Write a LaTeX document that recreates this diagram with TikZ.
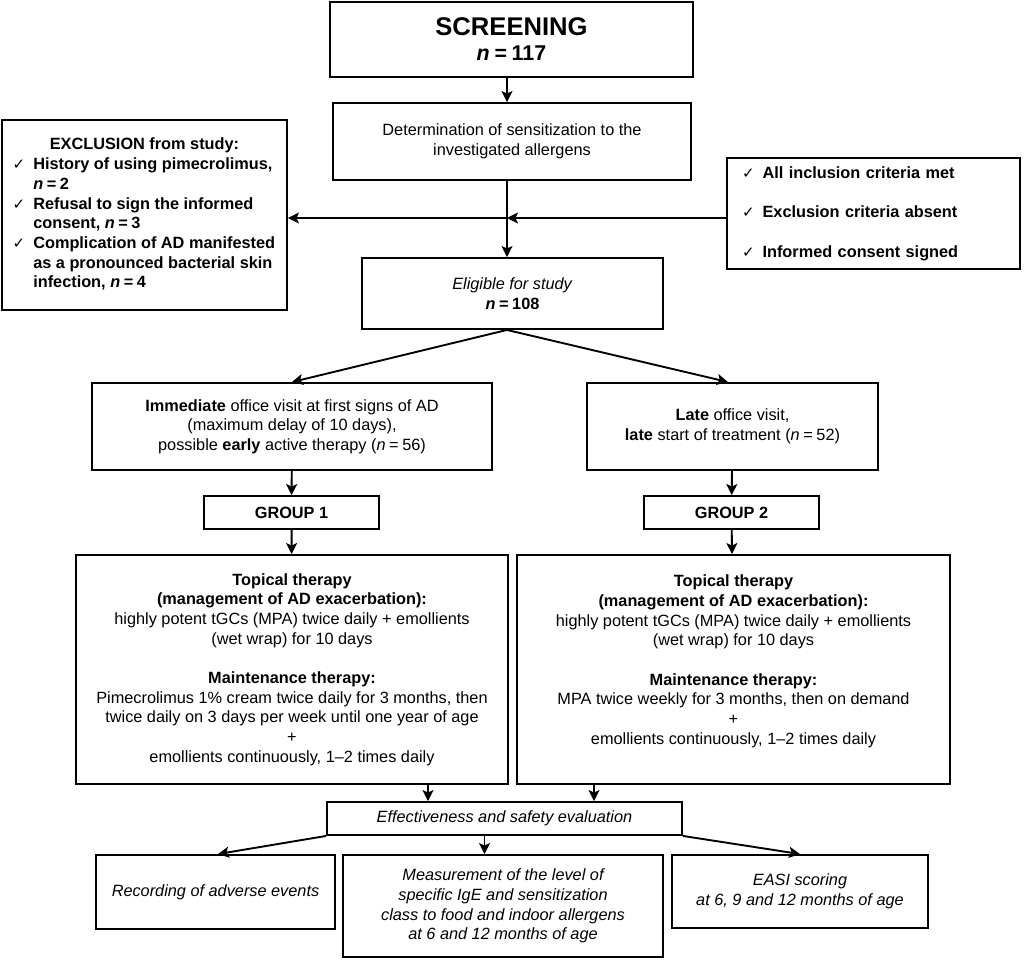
\documentclass[tikz,border=0pt]{standalone}
\usepackage{fontspec}
\setmainfont{Liberation Sans}
\newfontfamily\checkfont{DejaVu Sans}
\usepackage{array}
\usetikzlibrary{positioning,arrows.meta}
\newcommand{\checkmk}{{\checkfont\fontsize{15}{15}\selectfont ✓}}
\newcommand{\eqsp}{\hspace{0.22em}=\hspace{0.22em}}

\begin{document}
\begin{tikzpicture}[x=1pt,y=-1pt]
	\tikzset{box/.style={draw, line width=1.9pt, align=center, inner sep=2pt, font=\fontsize{16.3}{19.7}\selectfont},
		boldbox/.style={box, font=\bfseries\fontsize{16.3}{19.7}\selectfont},
		itbox/.style={box, font=\itshape\fontsize{16.3}{19.7}\selectfont},
		link/.style={->, line width=1.9pt},
		>={Stealth[length=11pt,width=11pt,inset=2.5pt]}}
	\useasboundingbox (0,0) rectangle (1026,960);
	\node[box, minimum width=363pt, minimum height=75pt, font=\bfseries\fontsize{25.6}{25}\selectfont] (scr) at (511.5,39.5) {SCREENING\\{\fontsize{21.4}{25}\selectfont\textit{n}\eqsp117}};
	\node[box, minimum width=358pt, minimum height=77pt] (det) at (512,141.5) {Determination of sensitization to the\\investigated allergens};
	\node[boldbox, minimum width=285pt, minimum height=190pt] (excl) at (144.5,215) {%
		\begin{tabular}{@{}l@{\hspace{8pt}}>{\raggedright\arraybackslash}p{243pt}@{}}
			\multicolumn{2}{c}{EXCLUSION from study:}\\
			\checkmk & History of using pimecrolimus,\newline \textit{n}\eqsp2\\
			\checkmk & Refusal to sign the informed\newline consent, \textit{n}\eqsp3\\
			\checkmk & Complication of AD manifested\newline as a pronounced bacterial skin\newline infection, \textit{n}\eqsp4
		\end{tabular}};
	\node[boldbox, minimum width=293pt, minimum height=111pt, text width=263pt, inner xsep=15pt, align=left] (incl) at (873.5,213.5) {\checkmk\hspace{8pt}All inclusion criteria met\\[19.7pt]\checkmk\hspace{8pt}Exclusion criteria absent\\[19.7pt]\checkmk\hspace{8pt}Informed consent signed};
	\node[box, minimum width=301pt, minimum height=71pt] (elig) at (512.5,293.5) {\textit{Eligible for study}\\\textbf{\textit{n}\eqsp108}};
	\node[box, minimum width=400pt, minimum height=87pt] (imm) at (292,426.5) {\textbf{Immediate} office visit at first signs of AD\\(maximum delay of 10 days),\\possible \textbf{early} active therapy (\textit{n}\eqsp56)};
	\node[box, minimum width=291pt, minimum height=87pt] (late) at (732.5,426.5) {\textbf{Late} office visit,\\\textbf{late} start of treatment (\textit{n}\eqsp52)};
	\node[boldbox, minimum width=175pt, minimum height=33pt] (g1) at (291.5,512.5) {GROUP 1};
	\node[boldbox, minimum width=175pt, minimum height=33pt] (g2) at (731.5,512.5) {GROUP 2};
	\node[box, minimum width=432pt, minimum height=229pt] (top1) at (292,669.5) {\textbf{Topical therapy}\\\textbf{(management of AD exacerbation):}\\highly potent tGCs (MPA) twice daily + emollients\\(wet wrap) for 10 days\\[19.7pt]\textbf{Maintenance therapy:}\\Pimecrolimus 1\% cream twice daily for 3 months, then\\twice daily on 3 days per week until one year of age\\+\\emollients continuously, 1--2 times daily};
	\node[box, minimum width=433pt, minimum height=229pt] (top2) at (733.5,669.5) {\textbf{Topical therapy}\\\textbf{(management of AD exacerbation):}\\highly potent tGCs (MPA) twice daily + emollients\\(wet wrap) for 10 days\\[19.7pt]\textbf{Maintenance therapy:}\\MPA twice weekly for 3 months, then on demand\\+\\emollients continuously, 1--2 times daily\\\mbox{}};
	\node[itbox, minimum width=355pt, minimum height=33pt] (eff) at (504.5,818.5) {Effectiveness and safety evaluation};
	\node[itbox, minimum width=239pt, minimum height=74pt] (rec) at (215.5,892) {Recording of adverse events};
	\node[itbox, minimum width=320pt, minimum height=102pt] (meas) at (503,906) {Measurement of the level of\\specific IgE and sensitization\\class to food and indoor allergens\\at 6 and 12 months of age};
	\node[itbox, minimum width=256pt, minimum height=73pt] (easi) at (800,891.5) {EASI scoring\\at 6, 9 and 12 months of age};
	\coordinate (spine) at (507,0);
	\coordinate (j) at (507,218);
	\coordinate (a1) at ([xshift=136pt]top1.south);
	\coordinate (a2) at ([xshift=-139.5pt]top2.south);
	\coordinate (b1) at ([xshift=-20pt]eff.south);
	\draw[link] (scr.south -| spine) -- (det.north -| spine);
	\draw[link] (det.south -| spine) -- (elig.north -| spine);
	\draw[link] (incl.west |- j) -- (j);
	\draw[link] (j) -- (excl.east |- j);
	\draw[link] (elig.south -| spine) -- (imm.north);
	\draw[link] (elig.south -| spine) -- ([xshift=-4.5pt]late.north);
	\draw[link] (imm) -- (g1);
	\draw[link] (g1) -- (top1);
	\draw[link] (late) -- (g2);
	\draw[link] (g2) -- (top2);
	\draw[link] (a1) -- (a1 |- eff.north);
	\draw[link] (a2) -- (a2 |- eff.north);
	\draw[link] (eff.south west) -- ([xshift=2.5pt]rec.north);
	\draw[link] (b1) -- (b1 |- meas.north);
	\draw[link] (eff.south east) -- (easi.north);
\end{tikzpicture}
\end{document}
